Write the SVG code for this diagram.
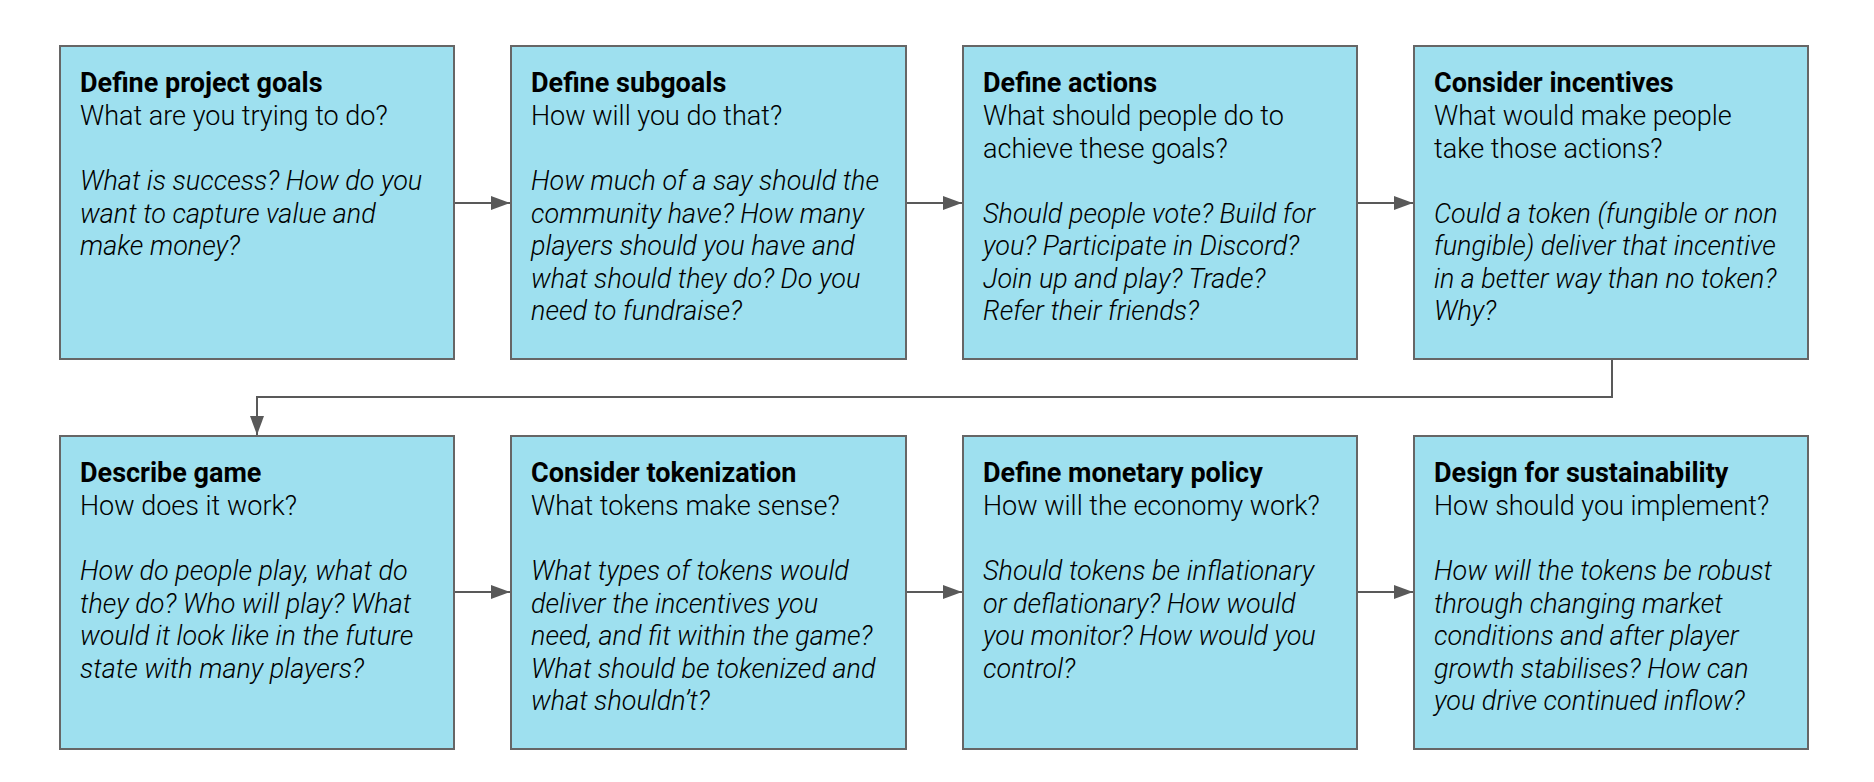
<svg xmlns="http://www.w3.org/2000/svg" width="1874" height="782" viewBox="0 0 1874 782">
<style>
.box{fill:#9ee0ef;stroke:#666666;stroke-width:2}
.t{font-family:Roboto,"Liberation Sans",sans-serif;font-size:27px;fill:#000}
.h{font-weight:700}
.s{font-family:"Roboto Light",Roboto,"Liberation Sans",sans-serif;font-weight:300}
.i{font-family:"Roboto Light",Roboto,"Liberation Sans",sans-serif;font-weight:300;font-style:italic}
.c{fill:none;stroke:#595959;stroke-width:2}
</style>
<defs>
<marker id="ah" markerUnits="userSpaceOnUse" markerWidth="20" markerHeight="14" refX="19" refY="7" orient="auto">
<path d="M0,0 L19,7 L0,14 Z" fill="#595959"/>
</marker>
</defs>
<rect width="1874" height="782" fill="#ffffff"/>
<g id="connectors">
<line class="c" x1="455" y1="203" x2="510" y2="203" marker-end="url(#ah)"/>
<line class="c" x1="907" y1="203" x2="962" y2="203" marker-end="url(#ah)"/>
<line class="c" x1="1358" y1="203" x2="1413" y2="203" marker-end="url(#ah)"/>
<polyline class="c" points="1612,360 1612,397 257,397 257,435" marker-end="url(#ah)"/>
<line class="c" x1="455" y1="592" x2="510" y2="592" marker-end="url(#ah)"/>
<line class="c" x1="907" y1="592" x2="962" y2="592" marker-end="url(#ah)"/>
<line class="c" x1="1358" y1="592" x2="1413" y2="592" marker-end="url(#ah)"/>
</g>
<g id="n1">
<rect class="box" x="60" y="46" width="394" height="313"/>
<text class="t"><tspan class="h" x="80" y="92">Define project goals</tspan><tspan class="s" x="80" y="125">What are you trying to do?</tspan><tspan class="i" x="80" y="190">What is success? How do you</tspan><tspan class="i" x="80" y="222.5">want to capture value and</tspan><tspan class="i" x="80" y="255">make money?</tspan></text>
</g>
<g id="n2">
<rect class="box" x="511" y="46" width="395" height="313"/>
<text class="t"><tspan class="h" x="531" y="92">Define subgoals</tspan><tspan class="s" x="531" y="125">How will you do that?</tspan><tspan class="i" x="531" y="190">How much of a say should the</tspan><tspan class="i" x="531" y="222.5">community have? How many</tspan><tspan class="i" x="531" y="255">players should you have and</tspan><tspan class="i" x="531" y="287.5">what should they do? Do you</tspan><tspan class="i" x="531" y="320">need to fundraise?</tspan></text>
</g>
<g id="n3">
<rect class="box" x="963" y="46" width="394" height="313"/>
<text class="t"><tspan class="h" x="983" y="92">Define actions</tspan><tspan class="s" x="983" y="125">What should people do to</tspan><tspan class="s" x="983" y="157.5">achieve these goals?</tspan><tspan class="i" x="983" y="222.5">Should people vote? Build for</tspan><tspan class="i" x="983" y="255">you? Participate in Discord?</tspan><tspan class="i" x="983" y="287.5">Join up and play? Trade?</tspan><tspan class="i" x="983" y="320">Refer their friends?</tspan></text>
</g>
<g id="n4">
<rect class="box" x="1414" y="46" width="394" height="313"/>
<text class="t"><tspan class="h" x="1434" y="92">Consider incentives</tspan><tspan class="s" x="1434" y="125">What would make people</tspan><tspan class="s" x="1434" y="157.5">take those actions?</tspan><tspan class="i" x="1434" y="222.5">Could a token (fungible or non</tspan><tspan class="i" x="1434" y="255">fungible) deliver that incentive</tspan><tspan class="i" x="1434" y="287.5">in a better way than no token?</tspan><tspan class="i" x="1434" y="320">Why?</tspan></text>
</g>
<g id="n5">
<rect class="box" x="60" y="436" width="394" height="313"/>
<text class="t"><tspan class="h" x="80" y="482">Describe game</tspan><tspan class="s" x="80" y="515">How does it work?</tspan><tspan class="i" x="80" y="580">How do people play, what do</tspan><tspan class="i" x="80" y="612.5">they do? Who will play? What</tspan><tspan class="i" x="80" y="645">would it look like in the future</tspan><tspan class="i" x="80" y="677.5">state with many players?</tspan></text>
</g>
<g id="n6">
<rect class="box" x="511" y="436" width="395" height="313"/>
<text class="t"><tspan class="h" x="531" y="482">Consider tokenization</tspan><tspan class="s" x="531" y="515">What tokens make sense?</tspan><tspan class="i" x="531" y="580">What types of tokens would</tspan><tspan class="i" x="531" y="612.5">deliver the incentives you</tspan><tspan class="i" x="531" y="645">need, and fit within the game?</tspan><tspan class="i" x="531" y="677.5">What should be tokenized and</tspan><tspan class="i" x="531" y="710">what shouldn’t?</tspan></text>
</g>
<g id="n7">
<rect class="box" x="963" y="436" width="394" height="313"/>
<text class="t"><tspan class="h" x="983" y="482">Define monetary policy</tspan><tspan class="s" x="983" y="515">How will the economy work?</tspan><tspan class="i" x="983" y="580">Should tokens be inflationary</tspan><tspan class="i" x="983" y="612.5">or deflationary? How would</tspan><tspan class="i" x="983" y="645">you monitor? How would you</tspan><tspan class="i" x="983" y="677.5">control?</tspan></text>
</g>
<g id="n8">
<rect class="box" x="1414" y="436" width="394" height="313"/>
<text class="t"><tspan class="h" x="1434" y="482">Design for sustainability</tspan><tspan class="s" x="1434" y="515">How should you implement?</tspan><tspan class="i" x="1434" y="580">How will the tokens be robust</tspan><tspan class="i" x="1434" y="612.5">through changing market</tspan><tspan class="i" x="1434" y="645">conditions and after player</tspan><tspan class="i" x="1434" y="677.5">growth stabilises? How can</tspan><tspan class="i" x="1434" y="710">you drive continued inflow?</tspan></text>
</g>
</svg>
